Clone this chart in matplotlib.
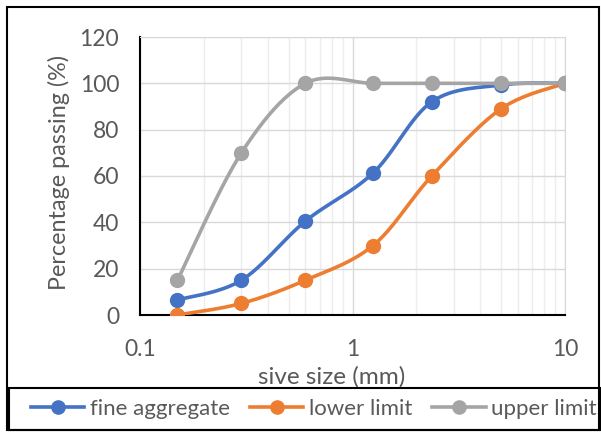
import numpy as np
import matplotlib
matplotlib.use('Agg')
import matplotlib.pyplot as plt
from matplotlib.patches import Rectangle
from matplotlib.ticker import FixedLocator, NullFormatter

plt.rcParams['font.family'] = ['Lato', 'DejaVu Sans']

sieve = [0.15, 0.3, 0.6, 1.25, 2.36, 5, 10]
fine = [6.5, 15, 40.5, 61.3, 92, 99.3, 100]
lower = [0, 5, 15, 30, 60, 89, 100]
upper = [15, 70, 100, 100, 100, 100, 100]
names = ['fine aggregate', 'lower limit', 'upper limit']
colors = ['#4472C4', '#ED7D31', '#A5A5A5']
txt = '#595959'


# excel-like smoothed line: bezier through the points (log x space)
def smooth(xs, ys, n=40):
    px = np.log10(xs)
    py = np.array(ys, dtype=float)
    m = len(px)
    outx, outy = [], []
    for i in range(m - 1):
        p0 = (px[max(i - 1, 0)], py[max(i - 1, 0)])
        p1 = (px[i], py[i])
        p2 = (px[i + 1], py[i + 1])
        p3 = (px[min(i + 2, m - 1)], py[min(i + 2, m - 1)])
        c1 = (p1[0] + (p2[0] - p0[0]) / 6, p1[1] + (p2[1] - p0[1]) / 6)
        c2 = (p2[0] - (p3[0] - p1[0]) / 6, p2[1] - (p3[1] - p1[1]) / 6)
        t = np.linspace(0, 1, n)
        bx = (1-t)**3*p1[0] + 3*(1-t)**2*t*c1[0] + 3*(1-t)*t**2*c2[0] + t**3*p2[0]
        by = (1-t)**3*p1[1] + 3*(1-t)**2*t*c1[1] + 3*(1-t)*t**2*c2[1] + t**3*p2[1]
        outx.extend(bx)
        outy.extend(by)
    return 10 ** np.array(outx), np.array(outy)


fig = plt.figure(figsize=(6.01, 4.32), dpi=100)
ax = fig.add_axes([140/601, 1 - 315/432, 425/601, 278/432])

for ys, c, lab in zip([fine, lower, upper], colors, names):
    sx, sy = smooth(sieve, ys)
    ax.plot(sx, sy, color=c, lw=2.6, solid_capstyle='round', zorder=3)
    ax.plot(sieve, ys, 'o', color=c, ms=10, zorder=4)
    ax.plot([], [], color=c, lw=2.6, marker='o', ms=9.5, label=lab)

ax.set_xscale('log')
ax.set_xlim(0.1, 10)
ax.set_ylim(0, 120)
ax.set_yticks(range(0, 121, 20))
ax.xaxis.set_major_locator(FixedLocator([0.1, 1, 10]))
ax.set_xticklabels(['0.1', '1', '10'])
ax.xaxis.set_minor_locator(FixedLocator([k * d for d in (0.1, 1) for k in range(2, 10)]))
ax.xaxis.set_minor_formatter(NullFormatter())
ax.grid(True, which='major', color='#D9D9D9', lw=1, zorder=0)
ax.grid(True, which='minor', axis='x', color='#EDEDED', lw=1, zorder=0)
ax.tick_params(which='both', length=0, labelsize=16.5, labelcolor=txt)
ax.tick_params(axis='y', pad=15)
ax.tick_params(axis='x', pad=17)
for s in ['top', 'right']:
    ax.spines[s].set_color('#D9D9D9')
for s in ['left', 'bottom']:
    ax.spines[s].set_color('black')
    ax.spines[s].set_linewidth(1.5)

fig.text(59/601, 1 - 172/432, 'Percentage passing (%)', rotation=90,
         ha='center', va='center', fontsize=16.8, color=txt)
fig.text(332/601, 1 - 377/432, 'sive size (mm)', ha='center', va='center',
         fontsize=17.5, color=txt)

# outer chart border and legend box
fig.patches.append(Rectangle((7/601, 2/432), 592/601, 423/432, transform=fig.transFigure,
                             fill=False, edgecolor='black', lw=1.5))
fig.patches.append(Rectangle((9/601, 2/432), 592/601, 42/432, transform=fig.transFigure,
                             fill=False, edgecolor='black', lw=1.5))
fig.legend(loc='center left', bbox_to_anchor=(20/601, 23/432), ncol=3, frameon=False,
           fontsize=16, labelcolor=txt, handlelength=2.4, handletextpad=0.25,
           columnspacing=0.9, borderpad=0)

fig.savefig('out.png', dpi=100)
